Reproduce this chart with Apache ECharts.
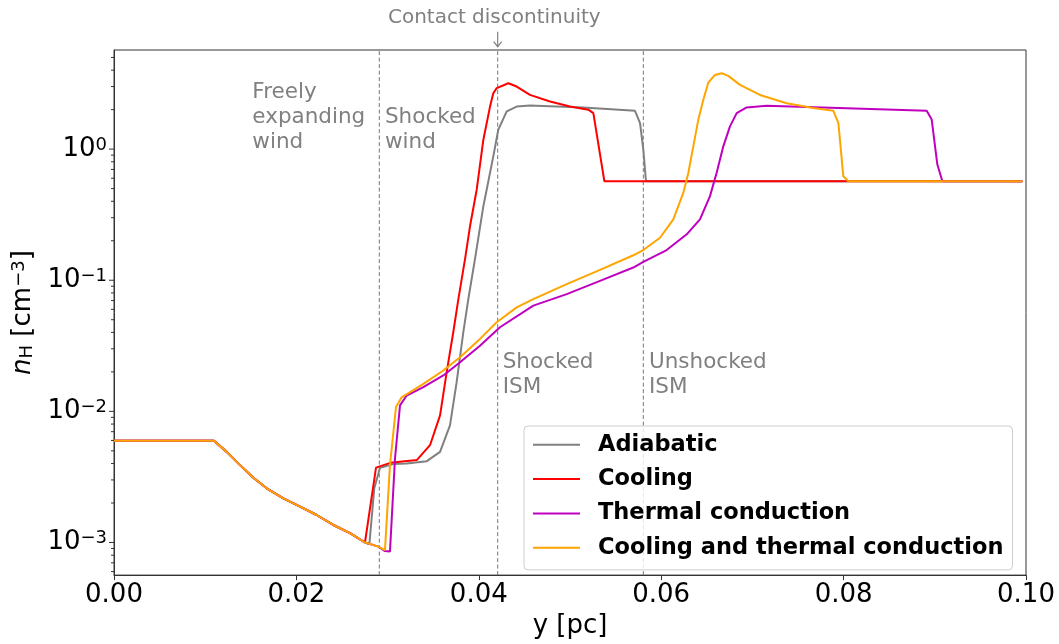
<!DOCTYPE html>
<html><head><meta charset="utf-8">
<script src="https://cdn.jsdelivr.net/npm/echarts@6/dist/echarts.min.js"></script>
<style>html,body{margin:0;padding:0;background:#fff}#c{width:1059px;height:644px}</style>
</head><body><div id="c"></div>
<script>
// ---- data ----
const seriesNames = ['Adiabatic', 'Cooling', 'Thermal conduction', 'Cooling and thermal conduction'];
const seriesColors = ['#808080', '#ff0000', '#bf00bf', '#ffa500'];

const commonX = [0, 0.01096, 0.01236, 0.01382, 0.01528, 0.01674, 0.01857, 0.0204, 0.02222, 0.02405, 0.02588, 0.02752];
const commonN = [5.96e-3, 5.96e-3, 4.91e-3, 3.89e-3, 3.12e-3, 2.59e-3, 2.17e-3, 1.88e-3, 1.62e-3, 1.36e-3, 1.18e-3, 1.0e-3];

const adiabaticX = [0.0280, 0.02854, 0.02917, 0.03063, 0.03209, 0.0343, 0.03575, 0.03684, 0.03757, 0.0383, 0.03885, 0.03958, 0.0405, 0.04159, 0.04214, 0.04306, 0.04415, 0.04561, 0.05146, 0.05713, 0.05768, 0.05804, 0.05833, 0.0996];
const adiabaticN = [9.7e-4, 2.59e-3, 3.71e-3, 3.96e-3, 4.0e-3, 4.17e-3, 4.91e-3, 7.83e-3, 1.67e-2, 4.01e-2, 7.18e-2, 0.145, 0.367, 0.88, 1.41, 1.94, 2.11, 2.15, 2.08, 1.96, 1.58, 0.99, 0.569, 0.569];

const coolingX = [0.02873, 0.0303, 0.0332, 0.03465, 0.03575, 0.03648, 0.0372, 0.03776, 0.03849, 0.03904, 0.03977, 0.0405, 0.04123, 0.04159, 0.04196, 0.04324, 0.04415, 0.04561, 0.04781, 0.05, 0.05201, 0.05256, 0.05377, 0.0996];
const coolingN = [3.72e-3, 4.05e-3, 4.25e-3, 5.52e-3, 9.33e-3, 1.99e-2, 4.01e-2, 7.18e-2, 0.145, 0.259, 0.49, 1.18, 2.11, 2.67, 2.92, 3.18, 3.0, 2.59, 2.31, 2.11, 2.0, 1.88, 0.569, 0.569];

const conductionX = [0.02899, 0.02971, 0.03026, 0.03081, 0.03136, 0.03209, 0.03392, 0.03611, 0.03794, 0.04013, 0.04232, 0.04598, 0.04964, 0.05329, 0.05694, 0.05804, 0.0606, 0.0628, 0.06425, 0.06535, 0.06608, 0.06681, 0.06754, 0.06828, 0.06937, 0.07156, 0.08911, 0.08966, 0.09028, 0.09083, 0.0996];
const conductionN = [9.3e-4, 8.6e-4, 8.55e-4, 4.37e-3, 1.11e-2, 1.32e-2, 1.53e-2, 1.88e-2, 2.37e-2, 3.17e-2, 4.38e-2, 6.4e-2, 7.84e-2, 9.89e-2, 0.125, 0.138, 0.17, 0.224, 0.291, 0.438, 0.66, 1.05, 1.49, 1.88, 2.08, 2.14, 1.96, 1.68, 0.763, 0.569, 0.569];

const bothX = [0.02899, 0.02971, 0.03026, 0.03092, 0.03154, 0.03392, 0.03611, 0.03794, 0.04013, 0.04196, 0.04415, 0.04598, 0.04964, 0.05329, 0.05694, 0.05804, 0.05987, 0.06133, 0.06243, 0.06298, 0.06352, 0.06407, 0.06462, 0.06517, 0.0659, 0.06663, 0.06736, 0.06864, 0.07083, 0.07376, 0.07668, 0.07888, 0.07943, 0.07997, 0.08052, 0.0996];
const bothN = [9.3e-4, 8.75e-4, 3.89e-3, 1.08e-2, 1.28e-2, 1.62e-2, 2.05e-2, 2.59e-2, 3.57e-2, 4.78e-2, 6.21e-2, 7.18e-2, 9.34e-2, 0.12, 0.155, 0.17, 0.211, 0.291, 0.465, 0.66, 1.05, 1.68, 2.38, 3.22, 3.68, 3.79, 3.62, 3.09, 2.59, 2.24, 2.06, 1.96, 1.58, 0.62, 0.569, 0.569];

const boundaryX = [0.02909, 0.04207, 0.05804];
const xTickLabels = ['0.00', '0.02', '0.04', '0.06', '0.08', '0.10'];
const yMajorTicks = [1e-3, 1e-2, 1e-1, 1];
const yMin = 5.64e-4, yMax = 5.7;

const annotations = [
  {text: 'Freely\nexpanding\nwind', x: 0.01517, y: 3.375},
  {text: 'Shocked\nwind', x: 0.02971, y: 2.18},
  {text: 'Shocked\nISM', x: 0.04262, y: 2.94e-2},
  {text: 'Unshocked\nISM', x: 0.05866, y: 2.94e-2}
];
const contactLabel = {text: 'Contact discontinuity', x: 0.0417, y: 10.07};
const contactArrow = {x: 0.04207, yTop: 7.85, yTip: 6.04};

// ---- build ----
const FONT = 'DejaVu Sans';
function pairs(xs, ns) { return xs.map((x, i) => [x, ns[i]]); }
const lineData = [
  pairs(commonX.concat(adiabaticX), commonN.concat(adiabaticN)),
  pairs(commonX.concat(coolingX), commonN.concat(coolingN)),
  pairs(commonX.concat(conductionX), commonN.concat(conductionN)),
  pairs(commonX.concat(bothX), commonN.concat(bothN))
];

// y tick marks (major + log minor) drawn through the y axis scale
const yTickData = [];
for (let e = -4; e <= 0; e++) {
  for (let k = 1; k <= 9; k++) {
    const v = k * Math.pow(10, e);
    if (v >= yMin && v <= yMax) yTickData.push([0, v, k === 1 ? 5 : 3]);
  }
}

const chart = echarts.init(document.getElementById('c'), null, {renderer: 'canvas'});

const series = [];
boundaryX.forEach((x, i) => {
  series.push({
    name: 'boundary' + i, type: 'line', data: [[x, yMin], [x, yMax]], showSymbol: false, symbol: 'none',
    lineStyle: {width: 1, color: '#777777', type: [4, 2.5]}, z: 2, silent: true
  });
});
lineData.forEach((d, i) => {
  series.push({
    name: seriesNames[i], type: 'line', data: d, showSymbol: false, symbol: 'none',
    lineStyle: {width: 2, color: seriesColors[i]}, itemStyle: {color: seriesColors[i]},
    z: 3 + i, silent: true
  });
});
series.push({
  type: 'custom', name: 'yticks', silent: true, clip: false, z: 10,
  data: yTickData, encode: {x: 0, y: 1},
  renderItem: (params, api) => {
    const p = api.coord([0, api.value(1)]);
    const len = api.value(2);
    return {type: 'line', shape: {x1: p[0] - len, y1: p[1], x2: p[0], y2: p[1]},
      style: {stroke: '#333', lineWidth: 1}};
  }
});

const option = {
  animation: false,
  backgroundColor: '#ffffff',
  grid: {left: 114, right: 33, top: 50, bottom: 67, show: true, borderColor: '#333', borderWidth: 1},
  xAxis: {
    type: 'value', min: 0, max: 0.1, interval: 0.02,
    axisLine: {show: true, lineStyle: {color: '#333', width: 1}},
    axisTick: {show: true, inside: false, length: 5, lineStyle: {color: '#333'}},
    splitLine: {show: false},
    axisLabel: {margin: 7, fontFamily: FONT, fontSize: 26, color: '#000',
      formatter: v => xTickLabels[Math.round(v / 0.02)] || ''},
    name: 'y [pc]', nameLocation: 'middle', nameGap: 37,
    nameTextStyle: {fontFamily: FONT, fontSize: 26, color: '#000'}
  },
  yAxis: {
    type: 'log', logBase: 10, min: yMin, max: yMax, splitNumber: 4,
    axisLine: {show: true, lineStyle: {color: '#333', width: 1}},
    axisTick: {show: false}, minorTick: {show: false}, splitLine: {show: false},
    axisLabel: {
      margin: 7,
      formatter: v => {
        const e = Math.log10(v), r = Math.round(e);
        if (Math.abs(e - r) > 1e-6) return '';
        if (!yMajorTicks.some(t => Math.abs(Math.log10(t) - r) < 1e-6)) return '';
        return '{b|10}{s|' + (r < 0 ? '\u2212' + (-r) : r) + '}';
      },
      rich: {
        b: {fontFamily: FONT, fontSize: 26, color: '#000', lineHeight: 26, verticalAlign: 'bottom'},
        s: {fontFamily: FONT, fontSize: 18, color: '#000', lineHeight: 14, verticalAlign: 'top'}
      }
    },
    name: '{i|n}{sub|H}{r| [cm}{sup|\u22123}{r|]}',
    nameLocation: 'middle', nameRotate: 90, nameGap: 61,
    nameTextStyle: {
      fontFamily: FONT, fontSize: 26, color: '#000',
      rich: {
        i: {fontFamily: FONT, fontSize: 26, fontStyle: 'italic', color: '#000', lineHeight: 26, verticalAlign: 'middle'},
        r: {fontFamily: FONT, fontSize: 26, color: '#000', lineHeight: 26, verticalAlign: 'middle'},
        sub: {fontFamily: FONT, fontSize: 18, color: '#000', lineHeight: 14, verticalAlign: 'bottom'},
        sup: {fontFamily: FONT, fontSize: 18, color: '#000', lineHeight: 14, verticalAlign: 'top'}
      }
    }
  },
  legend: {
    data: seriesNames, orient: 'vertical', left: 524, top: 426,
    icon: 'rect', itemWidth: 47, itemHeight: 2, itemGap: 11.3,
    padding: [7.3, 9, 10.7, 9],
    backgroundColor: 'rgba(255,255,255,0.8)', borderColor: '#cccccc', borderWidth: 1, borderRadius: 4,
    textStyle: {fontFamily: FONT, fontSize: 22.5, fontWeight: 'bold', color: '#000', lineHeight: 22, padding: [0, 0, 0, 13]},
    selectedMode: false
  },
  series: series
};
chart.setOption(option);

// ---- annotations anchored in data coordinates ----
const toPx = (x, y) => chart.convertToPixel({xAxisIndex: 0, yAxisIndex: 0}, [x, y]);
const graphics = annotations.map(a => {
  const p = toPx(a.x, a.y);
  return {type: 'text', x: p[0], y: p[1], z: 20, silent: true,
    style: {text: a.text, fill: '#808080', fontFamily: FONT, fontSize: 21.5, lineHeight: 25, align: 'left', verticalAlign: 'top'}};
});
const cp = toPx(contactLabel.x, contactLabel.y);
graphics.push({type: 'text', x: cp[0], y: cp[1], z: 20, silent: true,
  style: {text: contactLabel.text, fill: '#808080', fontFamily: FONT, fontSize: 20, align: 'center', verticalAlign: 'middle'}});
const a0 = toPx(contactArrow.x, contactArrow.yTop);
const a1 = toPx(contactArrow.x, contactArrow.yTip);
graphics.push({type: 'line', z: 20, silent: true, shape: {x1: a0[0], y1: a0[1], x2: a1[0], y2: a1[1]},
  style: {stroke: '#808080', lineWidth: 1.2}});
graphics.push({type: 'polyline', z: 20, silent: true,
  shape: {points: [[a1[0] - 4, a1[1] - 5], [a1[0], a1[1]], [a1[0] + 4, a1[1] - 5]]},
  style: {stroke: '#808080', lineWidth: 1.2, fill: null}});
chart.setOption({graphic: graphics});
</script>
</body></html>
